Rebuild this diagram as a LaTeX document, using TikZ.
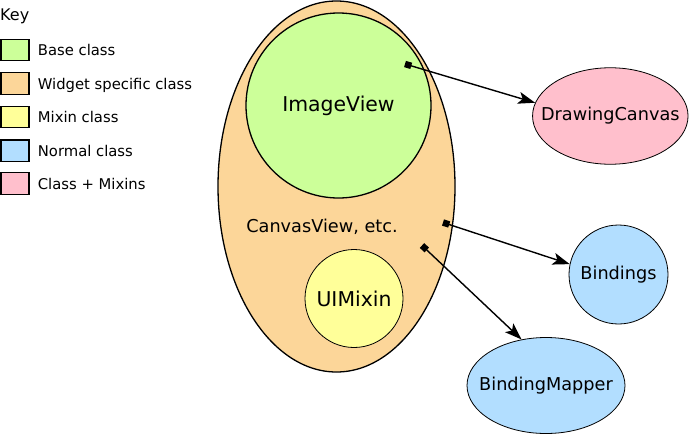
\documentclass[tikz,border=0pt]{standalone}
\usepackage{fontspec}
\setmainfont{DejaVu Sans}
\usetikzlibrary{arrows.meta,shapes.geometric}

\begin{document}
\begin{tikzpicture}[x=1pt,y=-1pt,
  every node/.style={inner sep=0pt},
  cls/.style={draw,line width=0.8pt},
  bigtxt/.style={font=\fontsize{20.4}{24}\selectfont},
  midtxt/.style={font=\fontsize{17.7}{21}\selectfont},
  keybox/.style={draw,line width=1.3pt,minimum width=28pt,minimum height=21.5pt},
  keytxt/.style={anchor=base west,font=\fontsize{14.8}{17}\selectfont},
  uses/.style={line width=1.4pt,{Square[length=6.5pt,width=6.5pt]}-{Stealth[length=17pt,width=12pt,inset=4pt]}}]

  \definecolor{basecol}{rgb}{0.80,1.00,0.60}
  \definecolor{widgcol}{rgb}{0.99,0.84,0.60}
  \definecolor{mixcol}{rgb}{1.00,1.00,0.60}
  \definecolor{normcol}{rgb}{0.70,0.87,1.00}
  \definecolor{pluscol}{rgb}{1.00,0.75,0.80}

  \useasboundingbox (0,0) rectangle (690,434);

  % key
  \node[anchor=base west,font=\fontsize{16}{19}\selectfont] (key) at (0,20) {Key};

  \node[keybox,fill=basecol] (kbase) at (15,50) {};
  \node[keytxt] (tbase) at (37.7,55.5) {Base class};
  \node[keybox,fill=widgcol] (kwidg) at (15,83.5) {};
  \node[keytxt] (twidg) at (37.7,89) {Widget specific class};
  \node[keybox,fill=mixcol] (kmix) at (15,117) {};
  \node[keytxt] (tmix) at (37.7,122.5) {Mixin class};
  \node[keybox,fill=normcol] (knorm) at (15,150.8) {};
  \node[keytxt] (tnorm) at (37.7,156.3) {Normal class};
  \node[keybox,fill=pluscol] (kplus) at (15,183.5) {};
  \node[keytxt] (tplus) at (37.7,189) {Class + Mixins};

  % widget class and what it holds
  \node[cls,ellipse,fill=widgcol,line width=1.3pt,minimum width=237pt,minimum height=371pt]
    (canvas) at (336.5,186.5) {};
  \node[cls,circle,fill=basecol,line width=1.3pt,minimum size=185pt,bigtxt]
    (image) at (338.5,105.5) {ImageView};
  \node[midtxt] (canvaslbl) at (322,226.5) {CanvasView, etc.};
  \node[cls,circle,fill=mixcol,minimum size=98pt,bigtxt]
    (uimix) at (354,298.5) {UIMixin};

  % used classes
  \node[cls,ellipse,fill=pluscol,inner xsep=-16pt,minimum width=155.5pt,minimum height=96.5pt,midtxt]
    (drawcv) at (610.3,116) {DrawingCanvas};
  \node[cls,circle,fill=normcol,minimum size=99pt,midtxt]
    (bind) at (618.5,274.5) {Bindings};
  \node[cls,ellipse,fill=normcol,inner xsep=-16pt,minimum width=158pt,minimum height=96pt,midtxt]
    (mapper) at (546,385.5) {BindingMapper};

  \coordinate (imgsrc) at (405,64);
  \coordinate (cvsrc) at (443,222.5);
  \coordinate (cvsrcb) at (422,245.5);

  \draw[uses] (imgsrc) -- (drawcv.170);
  \draw[uses] (cvsrc) -- (bind.168);
  \draw[uses] (cvsrcb) -- (mapper.118);

\end{tikzpicture}
\end{document}
